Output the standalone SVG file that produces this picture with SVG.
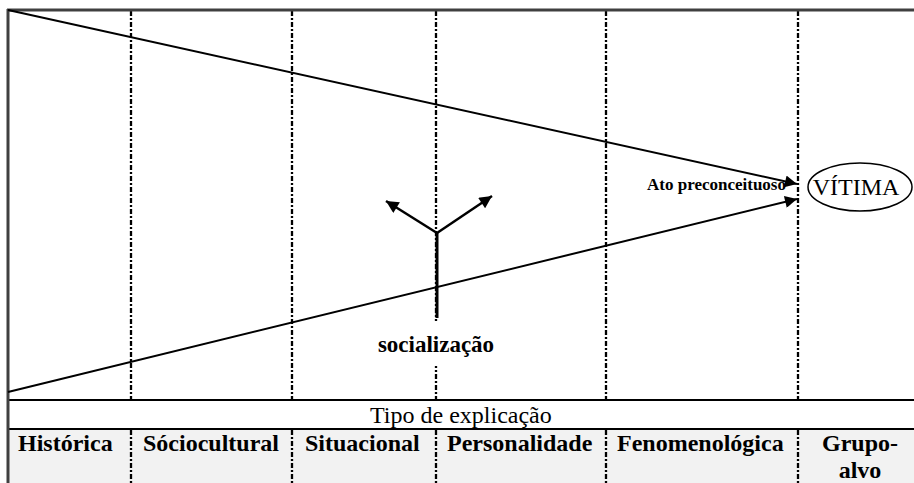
<svg xmlns="http://www.w3.org/2000/svg" width="914" height="483" viewBox="0 0 914 483">
<defs>
<style>
.dash{stroke:#000;stroke-width:2.3;stroke-dasharray:5 2 2 2;fill:none}
.ln{stroke:#000;stroke-width:2;fill:none}
.bold{font-family:"Liberation Serif","Times New Roman",serif;font-weight:bold;fill:#000}
.reg{font-family:"Liberation Serif","Times New Roman",serif;fill:#000}
</style>
<marker id="ah" viewBox="0 0 10 10" refX="10" refY="5" markerWidth="7" markerHeight="6" markerUnits="strokeWidth" orient="auto">
<path d="M0,0 L10,5 L0,10 z" fill="#000"/>
</marker>
<marker id="ah2" viewBox="0 0 10 10" refX="10" refY="5" markerWidth="6" markerHeight="5" markerUnits="strokeWidth" orient="auto">
<path d="M0,0 L10,5 L0,10 z" fill="#000"/>
</marker>
</defs>
<rect x="0" y="0" width="914" height="483" fill="#fff"/>
<rect x="8" y="429" width="906" height="54" fill="#f2f2f2"/>
<g id="grid">
<line x1="8" y1="400" x2="914" y2="400" class="ln"/>
<line x1="8" y1="429" x2="914" y2="429" class="ln"/>
<line x1="131" y1="11" x2="131" y2="400" class="dash"/>
<line x1="292" y1="11" x2="292" y2="400" class="dash"/>
<line x1="436" y1="11" x2="436" y2="400" class="dash"/>
<line x1="606" y1="11" x2="606" y2="400" class="dash"/>
<line x1="798" y1="11" x2="798" y2="400" class="dash"/>
<line x1="131" y1="430" x2="131" y2="483" class="dash"/>
<line x1="292" y1="430" x2="292" y2="483" class="dash"/>
<line x1="436" y1="430" x2="436" y2="483" class="dash"/>
<line x1="606" y1="430" x2="606" y2="483" class="dash"/>
<line x1="798" y1="430" x2="798" y2="483" class="dash"/>
<line x1="7" y1="10" x2="914" y2="10" stroke="#404040" stroke-width="3"/>
<line x1="8" y1="9" x2="8" y2="483" stroke="#404040" stroke-width="3"/>
</g>
<g id="connectors">
<line x1="8" y1="10" x2="797" y2="184" class="ln" marker-end="url(#ah)"/>
<line x1="8" y1="392" x2="797" y2="199" class="ln" marker-end="url(#ah)"/>
<line x1="437" y1="233" x2="437" y2="318" stroke="#000" stroke-width="3"/>
<line x1="437" y1="233" x2="386" y2="201" stroke="#000" stroke-width="2.5" marker-end="url(#ah2)"/>
<line x1="437" y1="233" x2="492" y2="196" stroke="#000" stroke-width="2.5" marker-end="url(#ah2)"/>
</g>
<g id="socializacao">
<rect x="376" y="321" width="120" height="45" fill="#fff"/>
<text x="436" y="352" text-anchor="middle" class="bold" font-size="23">socialização</text>
</g>
<g id="ato">
<text x="786" y="190" text-anchor="end" class="bold" font-size="17">Ato preconceituoso</text>
</g>
<g id="vitima">
<ellipse cx="860" cy="187" rx="52" ry="24" fill="#fff" stroke="#000" stroke-width="1.5"/>
<text x="856" y="195" text-anchor="middle" class="reg" font-size="24">VÍTIMA</text>
</g>
<g id="tipo">
<text x="370" y="423" class="reg" font-size="24">Tipo de explicação</text>
</g>
<g id="labels">
<text x="18" y="451" class="bold" font-size="24">Histórica</text>
<text x="143" y="451" class="bold" font-size="24">Sóciocultural</text>
<text x="305" y="451" class="bold" font-size="24">Situacional</text>
<text x="447" y="451" class="bold" font-size="24">Personalidade</text>
<text x="617" y="451" class="bold" font-size="24">Fenomenológica</text>
<text x="860" y="451" text-anchor="middle" class="bold" font-size="24">Grupo-</text>
<text x="860" y="478" text-anchor="middle" class="bold" font-size="24">alvo</text>
</g>
</svg>
